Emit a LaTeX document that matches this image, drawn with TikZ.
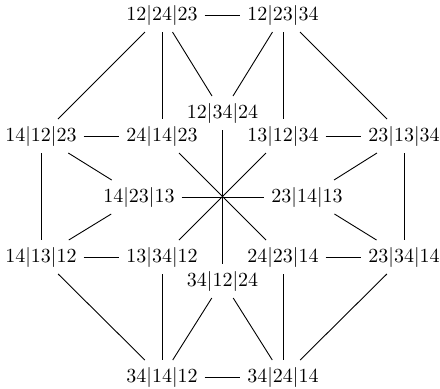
\documentclass[tikz,border=0pt]{standalone}
\usetikzlibrary{positioning}
\begin{document}
\begin{tikzpicture}[x=0.5pt, y=-0.5pt,
  font=\normalsize,
  vtx/.style={inner sep=3.3pt},
  edge/.style={line width=0.45pt}
]
\useasboundingbox (0,0) rectangle (440,388);
% ----- top and bottom pairs -----
\node[vtx] (p122423) at (162,15)  {12|24|23};
\node[vtx] (p122334) at (283,15)  {12|23|34};
\node[vtx] (p341412) at (162,377) {34|14|12};
\node[vtx] (p342414) at (283,377) {34|24|14};
% ----- inner top / bottom -----
\node[vtx] (p123424) at (222.5,113) {12|34|24};
\node[vtx] (p341224) at (222.5,281) {34|12|24};
% ----- second row -----
\node[vtx] (p141223) at (41,136)  {14|12|23};
\node[vtx] (p241423) at (162,136) {24|14|23};
\node[vtx] (p131234) at (283,136) {13|12|34};
\node[vtx] (p231334) at (404,136) {23|13|34};
% ----- middle row -----
\node[vtx] (p142313) at (139,197) {14|23|13};
\node[vtx] (p231413) at (307,197) {23|14|13};
% ----- fourth row -----
\node[vtx] (p141312) at (41,257)  {14|13|12};
\node[vtx] (p133412) at (162,257) {13|34|12};
\node[vtx] (p242314) at (283,257) {24|23|14};
\node[vtx] (p233414) at (404,257) {23|34|14};
% ----- edges -----
\foreach \a/\b in {p122423/p122334, p122423/p141223, p122423/p241423, p122423/p123424,
  p122334/p123424, p122334/p131234, p122334/p231334,
  p141223/p241423, p131234/p231334,
  p141223/p141312, p141223/p142313, p231334/p233414, p231334/p231413,
  p142313/p141312, p231413/p233414,
  p141312/p133412, p242314/p233414,
  p141312/p341412, p133412/p341412, p341224/p341412,
  p341224/p342414, p242314/p342414, p233414/p342414, p341412/p342414}
  {\draw[edge] (\a) -- (\b);}
% ----- star through the centre -----
\foreach \a/\b in {p123424/p341224, p142313/p231413, p241423/p242314, p131234/p133412}
  {\draw[edge] (\a) -- (\b);}
\end{tikzpicture}
\end{document}
